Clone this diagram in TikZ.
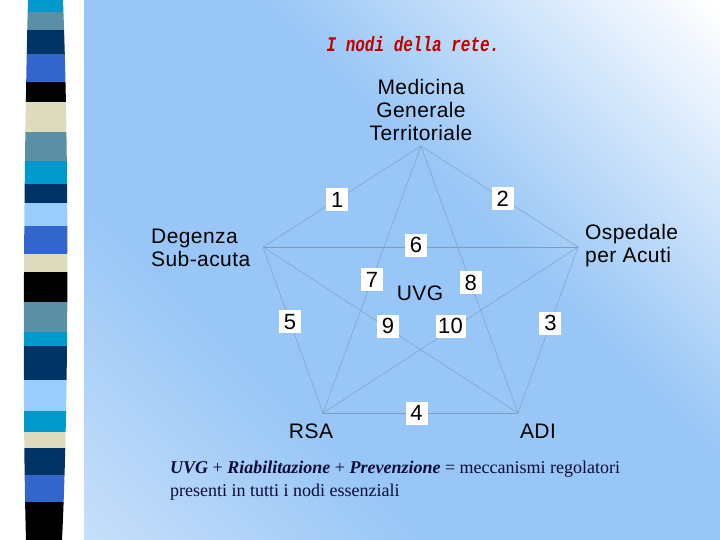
\documentclass[tikz,border=0pt]{standalone}
\usepackage{fontspec}
\setmainfont{Liberation Serif}
\newfontfamily\labfont[LetterSpace=2]{Liberation Sans}
\newfontfamily\ttlfont{Liberation Mono}
\definecolor{scyan}{HTML}{0099CC}
\definecolor{ssteel}{HTML}{5B8FA5}
\definecolor{snavy}{HTML}{003366}
\definecolor{sroyal}{HTML}{3366CC}
\definecolor{sbeige}{HTML}{DDDDBE}
\definecolor{slight}{HTML}{99CCFF}
\definecolor{bgblue}{HTML}{98C6F6}
\definecolor{bgpale}{HTML}{E8F1FD}
\definecolor{edgecol}{HTML}{7D9CC2}
\definecolor{ttlred}{HTML}{C00000}
\definecolor{notecol}{HTML}{0C0C38}
\pgfdeclarehorizontalshading{bgsh}{100bp}{color(0bp)=(bgpale); color(35bp)=(bgblue); color(58bp)=(bgblue); color(85bp)=(white); color(100bp)=(white)}
\tikzset{
  numbox/.style={fill=white, inner sep=0pt, minimum width=22pt, minimum height=23pt, font=\labfont\fontsize{22}{22}\selectfont},
  vlabel/.style={font=\labfont\fontsize{21}{23}\selectfont, inner sep=0pt},
  edge/.style={draw=edgecol, line width=0.45pt}
}
\begin{document}
\begin{tikzpicture}[x=1pt, y=-1pt]
\useasboundingbox (0,0) rectangle (720,540);
\fill[white] (0,0) rectangle (720,540);
\shade[shading=bgsh, shading angle=45] (84,0) rectangle (720,540);
% striped bar on the left
\begin{scope}
\clip (28,0) .. controls (24,150) and (22,400) .. (26,540) -- (62,540) .. controls (69,400) and (69,150) .. (63,0) -- cycle;
\foreach \ya/\yb/\col in {0/12/scyan, 12/30/ssteel, 30/54/snavy, 54/82/sroyal, 82/102/black,
  102/132/sbeige, 132/161/ssteel, 161/184/scyan, 184/203/snavy, 203/226/slight, 226/254/sroyal,
  254/272/sbeige, 272/302/black, 302/332/ssteel, 332/346/scyan, 346/380/snavy, 380/411/slight,
  411/432/scyan, 432/448/sbeige, 448/475/snavy, 475/502/sroyal, 502/540/black}
  \fill[\col] (15,\ya) rectangle (75,\yb);
\end{scope}
% title
\node[font=\ttlfont\bfseries\itshape\fontsize{16}{18}\selectfont, text=ttlred] (ttl) at (413,44) {\scalebox{1}[1.3]{I nodi della rete.}};
% corners of the network
\coordinate (mg) at (421,146);
\coordinate (ds) at (263,247);
\coordinate (op) at (578,247);
\coordinate (rsa) at (323,413);
\coordinate (adi) at (518,413);
\node[vlabel, align=center] (lmg) at (421,110) {Medicina\\Generale\\Territoriale};
\node[vlabel, align=left, anchor=west] (lds) at (151,248) {Degenza\\Sub-acuta};
\node[vlabel, align=left, anchor=west] (lop) at (585,246) {Ospedale\\per Acuti};
\node[vlabel] (lrsa) at (311,431) {RSA};
\node[vlabel] (ladi) at (538,431) {ADI};
\node[vlabel] (uvg) at (420,293) {UVG};
% links
\draw[edge] (mg) -- (ds) node[numbox, pos=0.53] (n1) {1};
\draw[edge] (mg) -- (op) node[numbox, pos=0.52] (n2) {2};
\draw[edge] (op) -- (adi) node[numbox, pos=0.46] (n3) {3};
\draw[edge] (rsa) -- (adi) node[numbox, pos=0.48] (n4) {4};
\draw[edge] (ds) -- (rsa) node[numbox, pos=0.45] (n5) {5};
\draw[edge] (ds) -- (op) node[numbox, pos=0.486, yshift=2pt] (n6) {6};
\draw[edge] (mg) -- (rsa) node[numbox, pos=0.50] (n7) {7};
\draw[edge] (mg) -- (adi) node[numbox, pos=0.513] (n8) {8};
\draw[edge] (ds) -- (adi) node[numbox, pos=0.49, yshift=2pt] (n9) {9};
\draw[edge] (op) -- (rsa) node[numbox, pos=0.50, minimum width=30pt, yshift=4pt] (n10) {10};
% note
\node[anchor=north west, align=left, inner sep=0pt, text=notecol, font=\fontsize{18}{23}\selectfont] (note) at (170,461)
  {\textbf{\textit{UVG}} + \textbf{\textit{Riabilitazione}} + \textbf{\textit{Prevenzione}} = meccanismi regolatori\\
   presenti in tutti i nodi essenziali};
\end{tikzpicture}
\end{document}
